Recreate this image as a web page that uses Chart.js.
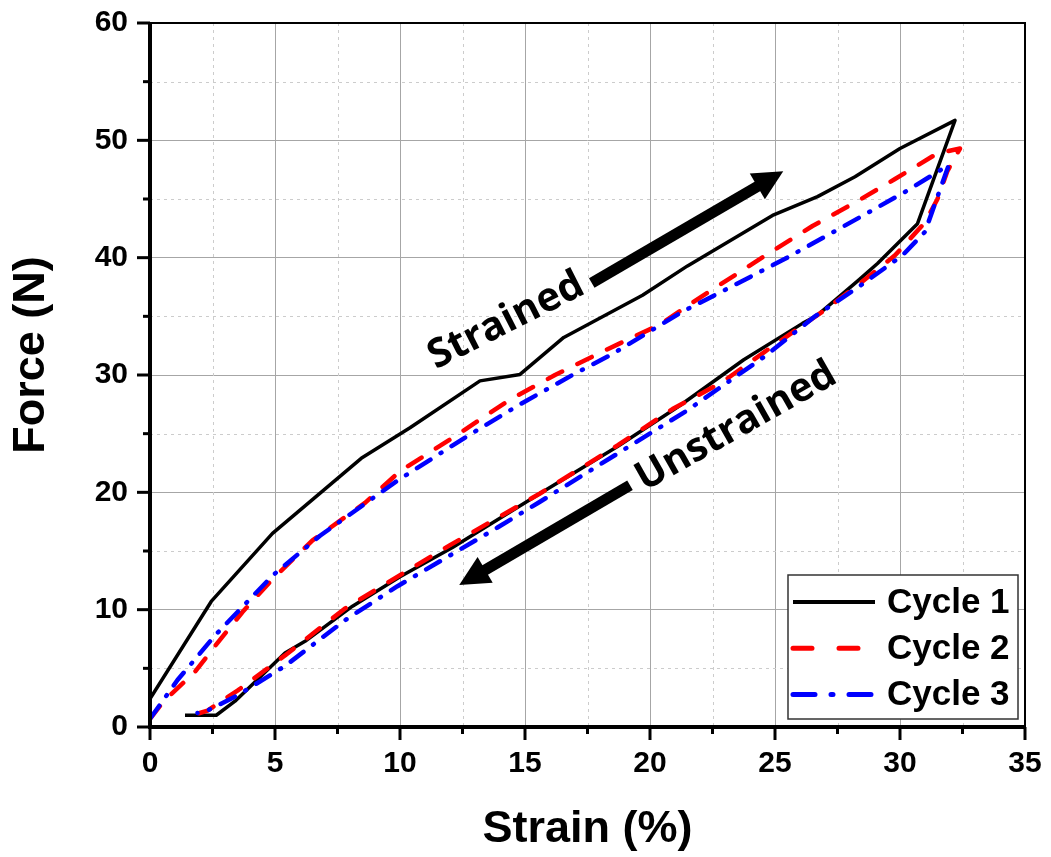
<!DOCTYPE html>
<html>
<head>
<meta charset="utf-8">
<script src="https://cdn.jsdelivr.net/npm/chart.js@4.4.1/dist/chart.umd.min.js"></script>
<style>
  html, body { margin: 0; padding: 0; background: #fff; }
  .chart-box { width: 1051px; height: 857px; position: relative; }
</style>
</head>
<body>
<div class="chart-box"><canvas id="hysteresisChart"></canvas></div>
<script>
// Strain (%) and force (N): loading branch up to the peak, then the unloading branch
const strainCycle1 = [0, 2.45, 4.9, 8.45, 10.4, 13.2, 14.8, 16.55, 19.7, 21.5, 24.9, 26.7, 28.2, 30.0, 32.2,
  30.7, 29.1, 28.3, 26.7, 26.1, 23.75, 21.2, 18.7, 15.6, 12.1, 10.0, 8.1, 6.2, 5.4, 3.4, 2.65, 1.4];
const forceCycle1 = [2.4, 10.7, 16.5, 22.9, 25.5, 29.5, 30.05, 33.2, 36.8, 39.3, 43.6, 45.2, 46.9, 49.3, 51.7,
  42.9, 39.5, 38.0, 35.1, 34.4, 31.3, 27.4, 23.9, 19.9, 15.3, 12.8, 10.3, 7.3, 6.3, 2.2, 1.0, 1.0];

const strainCycle2 = [0, 0.55, 1.8, 2.6, 3.7, 4.9, 6.5, 8.6, 10.0, 12.0, 14.4, 16.2, 18.3, 20.4, 22.0, 24.7, 26.5, 28.2, 29.8, 31.5, 32.4,
  31.9, 31.5, 31.0, 29.8, 28.4, 26.9, 24.6, 22.9, 20.9, 18.7, 15.6, 12.0, 10.2, 7.8, 5.4, 3.5, 2.3, 1.4];
const forceCycle2 = [0.7, 2.2, 4.7, 6.9, 9.8, 12.6, 15.9, 19.1, 21.8, 24.5, 27.9, 30.0, 32.2, 34.3, 36.6, 40.3, 42.7, 44.7, 46.7, 48.9, 49.3,
  47.4, 45.0, 43.0, 40.2, 37.8, 35.4, 32.0, 29.4, 27.1, 24.0, 19.9, 15.5, 13.2, 10.1, 6.1, 3.1, 1.4, 0.8];

const strainCycle3 = [0, 1.1, 2.6, 4.9, 6.8, 9.9, 12.7, 14.8, 16.9, 18.5, 21.3, 23.5, 25.4, 27.6, 30.2, 31.8, 31.95,
  31.0, 30.1, 28.4, 26.6, 24.6, 21.5, 18.7, 15.6, 13.9, 9.9, 7.8, 5.4, 3.5, 2.3, 1.9];
const forceCycle3 = [0.7, 4.0, 7.8, 12.9, 16.3, 21.0, 24.8, 27.5, 30.0, 31.8, 35.4, 37.8, 39.9, 42.5, 45.6, 47.7, 47.9,
  42.2, 40.2, 37.6, 35.0, 31.6, 27.0, 23.3, 19.2, 17.0, 12.0, 9.1, 5.2, 2.7, 1.4, 1.2];

const cycleLabels = ['Cycle 1', 'Cycle 2', 'Cycle 3'];
const strainTicks = [0, 5, 10, 15, 20, 25, 30, 35];
const forceTicks = [0, 10, 20, 30, 40, 50, 60];
const strainMinorTicks = [2.5, 7.5, 12.5, 17.5, 22.5, 27.5, 32.5];
const forceMinorTicks = [5, 15, 25, 35, 45, 55];

// text labels and direction arrows, in strain / force units
const directionNotes = [
  { text: 'Strained', x: 14.25, y: 34.6, angle: -27, tail: [17.67, 37.85], tip: [25.33, 47.36] },
  { text: 'Unstrained', x: 23.45, y: 25.6, angle: -29.5, tail: [19.2, 20.6], tip: [12.37, 12.1] }
];

const boldSans = 'Liberation Sans, Arial, sans-serif';

function toPoints(xs, ys) {
  return xs.map((x, i) => ({ x: x, y: ys[i] }));
}

function drawArrow(ctx, x0, y0, x1, y1) {
  const ang = Math.atan2(y1 - y0, x1 - x0);
  const headLen = 30, headHalf = 15;
  const bx = x1 - headLen * Math.cos(ang), by = y1 - headLen * Math.sin(ang);
  ctx.save();
  ctx.strokeStyle = '#000';
  ctx.fillStyle = '#000';
  ctx.lineWidth = 11;
  ctx.lineCap = 'butt';
  ctx.beginPath();
  ctx.moveTo(x0, y0);
  ctx.lineTo(bx + 4 * Math.cos(ang), by + 4 * Math.sin(ang));
  ctx.stroke();
  ctx.beginPath();
  ctx.moveTo(x1, y1);
  ctx.lineTo(bx + headHalf * Math.sin(ang), by - headHalf * Math.cos(ang));
  ctx.lineTo(bx - headHalf * Math.sin(ang), by + headHalf * Math.cos(ang));
  ctx.closePath();
  ctx.fill();
  ctx.restore();
}

// minor dotted grid, frame, tick marks, notes, legend and the y title
const plotDecor = {
  id: 'plotDecor',
  beforeDatasetsDraw(chart) {
    const { ctx, chartArea: a, scales: { x, y } } = chart;
    ctx.save();
    ctx.strokeStyle = '#cccccc';
    ctx.lineWidth = 1;
    ctx.setLineDash([3, 4]);
    strainMinorTicks.forEach(v => {
      const px = Math.round(x.getPixelForValue(v)) + 0.5;
      ctx.beginPath(); ctx.moveTo(px, a.top); ctx.lineTo(px, a.bottom); ctx.stroke();
    });
    forceMinorTicks.forEach(v => {
      const py = Math.round(y.getPixelForValue(v)) + 0.5;
      ctx.beginPath(); ctx.moveTo(a.left, py); ctx.lineTo(a.right, py); ctx.stroke();
    });
    ctx.restore();
  },
  afterDatasetsDraw(chart) {
    const { ctx, chartArea: a, scales: { x, y } } = chart;
    ctx.save();

    // frame
    ctx.strokeStyle = '#000';
    ctx.lineWidth = 2;
    ctx.beginPath();
    ctx.moveTo(a.left, a.top); ctx.lineTo(a.right, a.top); ctx.lineTo(a.right, a.bottom);
    ctx.stroke();
    ctx.lineWidth = 4;
    ctx.beginPath();
    ctx.moveTo(a.left, a.top - 1); ctx.lineTo(a.left, a.bottom); ctx.lineTo(a.right + 1, a.bottom);
    ctx.stroke();

    // outward tick marks
    ctx.lineWidth = 3;
    strainTicks.forEach(v => {
      const px = x.getPixelForValue(v);
      ctx.beginPath(); ctx.moveTo(px, a.bottom); ctx.lineTo(px, a.bottom + 13); ctx.stroke();
    });
    strainMinorTicks.forEach(v => {
      const px = x.getPixelForValue(v);
      ctx.beginPath(); ctx.moveTo(px, a.bottom); ctx.lineTo(px, a.bottom + 7); ctx.stroke();
    });
    forceTicks.forEach(v => {
      const py = y.getPixelForValue(v);
      ctx.beginPath(); ctx.moveTo(a.left, py); ctx.lineTo(a.left - 13, py); ctx.stroke();
    });
    forceMinorTicks.forEach(v => {
      const py = y.getPixelForValue(v);
      ctx.beginPath(); ctx.moveTo(a.left, py); ctx.lineTo(a.left - 7, py); ctx.stroke();
    });

    // direction notes
    directionNotes.forEach(n => {
      drawArrow(ctx, x.getPixelForValue(n.tail[0]), y.getPixelForValue(n.tail[1]),
        x.getPixelForValue(n.tip[0]), y.getPixelForValue(n.tip[1]));
      ctx.save();
      ctx.translate(x.getPixelForValue(n.x), y.getPixelForValue(n.y));
      ctx.rotate(n.angle * Math.PI / 180);
      ctx.font = 'bold 40px "Open Sans", "Noto Sans", sans-serif';
      ctx.fillStyle = '#000';
      ctx.textAlign = 'center';
      ctx.textBaseline = 'middle';
      ctx.fillText(n.text, 0, 0);
      ctx.restore();
    });

    // legend box
    const bw = 230, bh = 144;
    const bx = a.right - 7 - bw, by = a.bottom - 8 - bh;
    ctx.fillStyle = '#fff';
    ctx.fillRect(bx, by, bw, bh);
    ctx.strokeStyle = '#333';
    ctx.lineWidth = 1.5;
    ctx.setLineDash([]);
    ctx.strokeRect(bx, by, bw, bh);
    chart.data.datasets.forEach((ds, i) => {
      const ry = by + 27 + i * 46.3;
      ctx.save();
      ctx.strokeStyle = ds.borderColor;
      ctx.lineWidth = ds.borderWidth + 0.5;
      ctx.lineCap = ds.borderCapStyle;
      ctx.setLineDash(ds.legendDash);
      ctx.beginPath(); ctx.moveTo(bx + 5, ry); ctx.lineTo(bx + 87, ry); ctx.stroke();
      ctx.restore();
      ctx.fillStyle = '#000';
      ctx.font = 'bold 35px ' + boldSans;
      ctx.textAlign = 'left';
      ctx.textBaseline = 'middle';
      ctx.fillText(ds.label, bx + 99, ry + 1);
    });

    // y axis title
    ctx.save();
    ctx.translate(32, (a.top + a.bottom) / 2 - 20);
    ctx.rotate(-Math.PI / 2);
    ctx.font = 'bold 45px ' + boldSans;
    ctx.fillStyle = '#000';
    ctx.textAlign = 'center';
    ctx.textBaseline = 'middle';
    ctx.fillText('Force (N)', 0, 0);
    ctx.restore();

    ctx.restore();
  }
};

const hysteresisChart = new Chart(document.getElementById('hysteresisChart').getContext('2d'), {
  type: 'scatter',
  data: {
    datasets: [
      {
        label: cycleLabels[0],
        data: toPoints(strainCycle1, forceCycle1),
        borderColor: '#000000',
        borderWidth: 3.5,
        borderCapStyle: 'butt',
        legendDash: [],
        order: 2
      },
      {
        label: cycleLabels[1],
        data: toPoints(strainCycle2, forceCycle2),
        borderColor: '#ff0000',
        borderWidth: 4.5,
        borderDash: [16, 17],
        borderCapStyle: 'round',
        legendDash: [19, 27],
        order: 1
      },
      {
        label: cycleLabels[2],
        data: toPoints(strainCycle3, forceCycle3),
        borderColor: '#0000ff',
        borderWidth: 4.5,
        borderDash: [16, 12, 1, 12],
        borderCapStyle: 'round',
        legendDash: [22, 16, 2, 16],
        order: 0
      }
    ]
  },
  options: {
    responsive: true,
    maintainAspectRatio: false,
    animation: false,
    showLine: true,
    elements: {
      point: { radius: 0, hoverRadius: 0 },
      line: { tension: 0, fill: false, borderJoinStyle: 'round' }
    },
    layout: { padding: { top: 23, right: 26, left: 0, bottom: 0 } },
    plugins: {
      legend: { display: false },
      tooltip: { enabled: false }
    },
    scales: {
      x: {
        type: 'linear',
        min: 0,
        max: 35,
        afterBuildTicks: s => { s.ticks = strainTicks.map(v => ({ value: v })); },
        afterFit: s => { s.height = 130; s.paddingLeft = 0; s.paddingRight = 0; },
        ticks: {
          font: { family: boldSans, size: 30, weight: 'bold' },
          color: '#000',
          padding: 19,
          maxRotation: 0,
          autoSkip: false
        },
        grid: { color: '#a6a6a6', lineWidth: 1, drawTicks: false },
        border: { display: false },
        title: {
          display: true,
          text: 'Strain (%)',
          color: '#000',
          font: { family: boldSans, size: 45, weight: 'bold' },
          padding: { top: 1, bottom: 0 }
        }
      },
      y: {
        type: 'linear',
        min: 0,
        max: 60,
        afterBuildTicks: s => { s.ticks = forceTicks.map(v => ({ value: v })); },
        afterFit: s => { s.width = 150; s.paddingTop = 0; s.paddingBottom = 0; },
        ticks: {
          font: { family: boldSans, size: 30, weight: 'bold' },
          color: '#000',
          padding: 22,
          autoSkip: false
        },
        grid: { color: '#a6a6a6', lineWidth: 1, drawTicks: false },
        border: { display: false }
      }
    }
  },
  plugins: [plotDecor]
});
</script>
</body>
</html>
